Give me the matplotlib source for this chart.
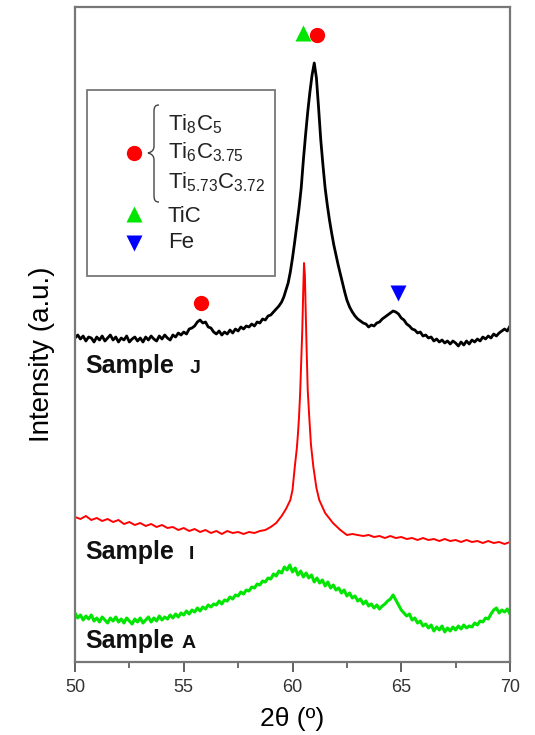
import numpy as np
import matplotlib
matplotlib.use("Agg")
import matplotlib.pyplot as plt
from matplotlib.ticker import MultipleLocator
from matplotlib.transforms import Affine2D
from matplotlib.path import Path
from matplotlib.patches import PathPatch, Rectangle

plt.rcParams['font.family'] = ['Liberation Sans', 'DejaVu Sans']
plt.rcParams['mathtext.fontset'] = 'custom'
plt.rcParams['mathtext.rm'] = 'Liberation Sans'
plt.rcParams['mathtext.default'] = 'regular'

#%% XRD data (2theta in deg, intensity in a.u.)
# Sample J: 0.125 deg steps, 0.1 deg steps across the main peak
x_J = np.concatenate([np.linspace(50.0, 59.5, 77),
                      np.linspace(59.6, 62.4, 29),
                      np.linspace(62.5, 70.0, 61)])
y_J = [324, 327, 323, 326, 321, 325, 324, 320,   # 50
       325, 322, 326, 321, 324, 327, 322, 325,   # 51
       320, 324, 322, 326, 320, 323, 325, 321,   # 52
       324, 320, 325, 322, 326, 323, 321, 326,   # 53
       323, 327, 324, 322, 327, 325, 329, 327,   # 54
       330, 328, 333, 334, 336, 340, 342, 339,   # 55
       340, 335, 334, 330, 328, 331, 327, 330,   # 56
       328, 332, 329, 333, 331, 335, 333, 336,   # 57
       335, 338, 336, 340, 339, 343, 342, 346,   # 58
       347, 350, 353, 356, 360,                  # 59 - 59.5
       365, 372, 379, 390, 404, 420, 437, 454, 474, 502, 527, 550,
       570, 587, 599, 584, 554, 522, 497, 474, 457, 442, 429, 417,
       407, 397, 388, 379, 370,                  # 59.6 - 62.4
       362, 355, 350, 346,                       # 62.5
       343, 341, 339, 338, 335, 337, 336, 339,   # 63
       340, 343, 345, 347, 349, 351, 350, 348,   # 64
       344, 342, 338, 336, 333, 332, 329, 330,   # 65
       326, 327, 324, 325, 321, 323, 320, 322,   # 66
       319, 321, 318, 321, 319, 316, 320, 317,   # 67
       321, 318, 322, 320, 323, 321, 325, 323,   # 68
       326, 324, 328, 326, 329, 331, 333, 331,   # 69
       336]                                      # 70

x_I = [50.00, 50.25, 50.50, 50.75, 51.00, 51.25, 51.50, 51.75, 52.00, 52.25,
       52.50, 52.75, 53.00, 53.25, 53.50, 53.75, 54.00, 54.25, 54.50, 54.75,
       55.00, 55.25, 55.50, 55.75, 56.00, 56.25, 56.50, 56.75, 57.00, 57.25,
       57.50, 57.75, 58.00, 58.25, 58.50, 58.75, 59.00, 59.25, 59.50,
       59.70, 59.90, 60.00, 60.10, 60.20, 60.25, 60.30, 60.35, 60.40, 60.45,
       60.50, 60.53, 60.57, 60.60, 60.65, 60.70, 60.77, 60.85, 60.96, 61.10,
       61.23, 61.50, 61.86, 62.20, 62.50, 62.75, 63.00, 63.25, 63.50, 63.75,
       64.00, 64.25, 64.50, 64.75, 65.00, 65.25, 65.50, 65.75, 66.00, 66.25,
       66.50, 66.75, 67.00, 67.25, 67.50, 67.75, 68.00, 68.25, 68.50, 68.75,
       69.00, 69.25, 69.50, 69.75, 70.00]
y_I = [145, 143, 146, 142, 144, 141, 143, 140, 142, 138,
       140, 137, 139, 136, 138, 135, 137, 134, 135, 132,
       134, 131, 133, 130, 132, 129, 131, 128, 131, 129,
       130, 128, 130, 129, 131, 132, 135, 139, 146,
       153, 162, 172, 194, 214, 228, 245, 268, 300, 332,
       377, 399, 387, 357, 312, 272, 245, 217, 195, 174,
       162, 149, 139, 132, 127, 128, 127, 126, 127, 125,
       126, 124, 126, 124, 125, 123, 124, 122, 124, 122,
       123, 121, 123, 121, 122, 120, 122, 120, 121, 119,
       121, 119, 120, 118, 120]

# Sample A: 0.125 deg steps
x_A = np.linspace(50.0, 70.0, 161)
y_A = [49, 44, 47, 42, 46, 43, 47, 41,   # 50
       44, 40, 45, 42, 39, 44, 41, 45,   # 51
       40, 43, 39, 44, 41, 38, 43, 40,   # 52
       44, 39, 42, 45, 40, 44, 41, 46,   # 53
       42, 45, 43, 47, 44, 48, 45, 49,   # 54
       47, 51, 48, 52, 50, 54, 51, 55,   # 55
       53, 57, 55, 58, 57, 61, 58, 62,   # 56
       61, 65, 63, 67, 66, 70, 68, 72,   # 57
       71, 75, 74, 78, 77, 81, 80, 84,   # 58
       83, 88, 86, 91, 89, 95, 92, 97,   # 59
       90, 94, 87, 91, 85, 89, 84, 87,   # 60
       80, 84, 79, 82, 76, 80, 74, 77,   # 61
       72, 74, 69, 72, 66, 69, 64, 66,   # 62
       61, 63, 58, 61, 56, 58, 54, 57,   # 63
       53, 56, 58, 61, 63, 67, 62, 57,   # 64
       52, 49, 46, 48, 42, 44, 39, 41,   # 65
       36, 38, 34, 37, 31, 35, 32, 36,   # 66
       30, 34, 31, 35, 32, 36, 33, 37,   # 67
       34, 36, 35, 39, 37, 41, 40, 44,   # 68
       43, 48, 52, 54, 49, 52, 50, 53,   # 69
       48]                               # 70

# phase markers: (2theta, height)
carbide_x = [55.8, 61.13]
carbide_y = [359, 627]
tic_x = [60.48]
tic_y = [629]
fe_x = [64.85]
fe_y = [369]

sample_names = ['J', 'I', 'A']
sample_label_y = [289, 103, 14]
sample_letter_x = [55.25, 55.25, 54.9]
legend_labels = [r'Ti$_8$C$_5$', r'Ti$_6$C$_{3.75}$', r'Ti$_{5.73}$C$_{3.72}$',
                 'TiC', 'Fe']

#%% Figure
fig = plt.figure(figsize=(5.35, 7.35), dpi=100)
ax = fig.add_axes([75/535, 1-662/735, 435/535, 655/735])
# pixel coordinates from the top-left corner of the figure
px = Affine2D().scale(1/535, -1/735).translate(0, 1) + fig.transFigure

ax.plot(x_A, y_A, color='#00e600', lw=2.2)
ax.plot(x_I, y_I, color='#ff0000', lw=1.4)
ax.plot(x_J, y_J, color='black', lw=2.0)

ax.plot(carbide_x, carbide_y, 'o', color='#ff0000', ms=11, mec='none', clip_on=False)
ax.plot(tic_x, tic_y, '^', color='#00e600', ms=12, mec='none', clip_on=False)
ax.plot(fe_x, fe_y, 'v', color='#0000ff', ms=12, mec='none', clip_on=False)

for name, yl, xl in zip(sample_names, sample_label_y, sample_letter_x):
    ax.text(50.46, yl, 'Sample', fontsize=18, fontweight='bold',
            va='baseline', color='#111111')
    ax.text(xl, yl, name, fontsize=14, fontweight='bold',
            va='baseline', color='#111111')

ax.set_xlim(50, 70)
ax.set_ylim(0, 655)
ax.xaxis.set_major_locator(MultipleLocator(5))
ax.xaxis.set_minor_locator(MultipleLocator(2.5))
ax.tick_params(axis='x', which='major', direction='out', length=7, width=1.3,
               color='#555555', labelsize=13, labelcolor='#333333', pad=5)
ax.tick_params(axis='x', which='minor', direction='out', length=4, width=1.2,
               color='#555555')
ax.set_yticks([])
for sp in ax.spines.values():
    sp.set_color('#777777')
    sp.set_linewidth(1.6)

ax.set_xlabel('2θ (º)', fontsize=19, labelpad=8)
ax.set_ylabel('Intensity (a.u.)', fontsize=20)
ax.yaxis.set_label_coords(-0.045, 0.47)

#%% Hand-made legend
fig.add_artist(Rectangle((87, 276), 188, -186, transform=px, fill=False,
                         ec='#777777', lw=1.3))
ax.plot([134], [153], 'o', color='#ff0000', ms=11, mec='none', transform=px,
        clip_on=False)
ax.plot([134], [214], '^', color='#00e600', ms=12, mec='none', transform=px,
        clip_on=False)
ax.plot([134], [243], 'v', color='#0000ff', ms=12, mec='none', transform=px,
        clip_on=False)
brace = Path([(159, 105), (155, 105), (154, 107), (154, 112),
              (154, 146),
              (154, 150), (152, 152), (148, 153),
              (152, 154), (154, 156), (154, 160),
              (154, 195),
              (154, 200), (155, 202), (159, 202)],
             [Path.MOVETO, Path.CURVE4, Path.CURVE4, Path.CURVE4,
              Path.LINETO,
              Path.CURVE4, Path.CURVE4, Path.CURVE4,
              Path.CURVE4, Path.CURVE4, Path.CURVE4,
              Path.LINETO,
              Path.CURVE4, Path.CURVE4, Path.CURVE4])
fig.add_artist(PathPatch(brace, transform=px, fill=False, ec='#444444', lw=1.0))
for lab, yb in zip(legend_labels, [130, 158, 188, 222, 248]):
    fig.text(168, yb, lab, transform=px, fontsize=16, va='baseline',
             color='#222222')

fig.savefig('out.png', dpi=100)
